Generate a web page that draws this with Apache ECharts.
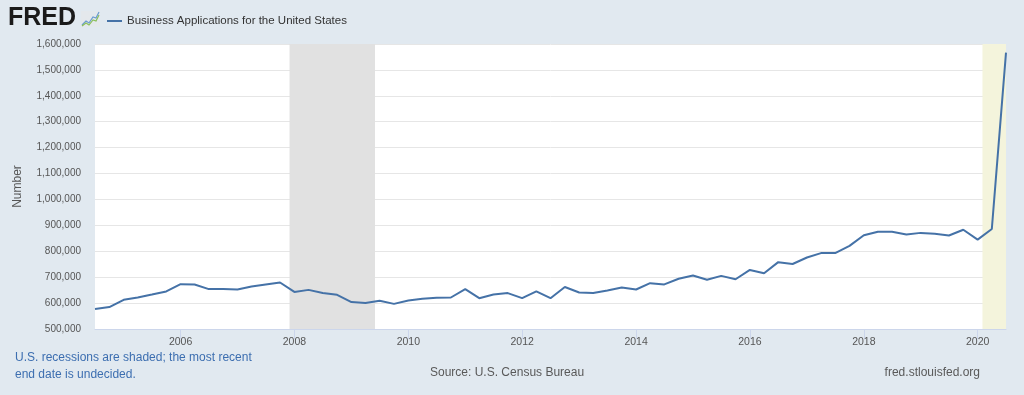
<!DOCTYPE html>
<html>
<head>
<meta charset="utf-8">
<script src="https://cdn.jsdelivr.net/npm/echarts@6/dist/echarts.min.js"></script>
<style>
html,body{margin:0;padding:0;background:#e1e9f0;}
#chart{width:1024px;height:395px;}
</style>
</head>
<body>
<div id="chart"></div>
<script>
// Quarter start dates (categories)
const quarters = [
 '2004-07-01','2004-10-01',
 '2005-01-01','2005-04-01','2005-07-01','2005-10-01',
 '2006-01-01','2006-04-01','2006-07-01','2006-10-01',
 '2007-01-01','2007-04-01','2007-07-01','2007-10-01',
 '2008-01-01','2008-04-01','2008-07-01','2008-10-01',
 '2009-01-01','2009-04-01','2009-07-01','2009-10-01',
 '2010-01-01','2010-04-01','2010-07-01','2010-10-01',
 '2011-01-01','2011-04-01','2011-07-01','2011-10-01',
 '2012-01-01','2012-04-01','2012-07-01','2012-10-01',
 '2013-01-01','2013-04-01','2013-07-01','2013-10-01',
 '2014-01-01','2014-04-01','2014-07-01','2014-10-01',
 '2015-01-01','2015-04-01','2015-07-01','2015-10-01',
 '2016-01-01','2016-04-01','2016-07-01','2016-10-01',
 '2017-01-01','2017-04-01','2017-07-01','2017-10-01',
 '2018-01-01','2018-04-01','2018-07-01','2018-10-01',
 '2019-01-01','2019-04-01','2019-07-01','2019-10-01',
 '2020-01-01','2020-04-01','2020-07-01'
];
// Business applications (Number)
const applications = [
 577000, 584500,
 612700, 621600, 633000, 645000,
 673000, 672000, 654000, 654000,
 652500, 664000, 672000, 679600,
 643000, 651000, 638600, 632000,
 604000, 600000, 609000, 597000,
 610000, 616600, 620500, 621600,
 654000, 619000, 633000, 638600,
 619000, 645000, 619000, 662000,
 641000, 638600, 648600, 660000,
 652500, 677000, 672000, 694000,
 706600, 690000, 705000, 692000,
 728000, 715000, 758000, 751000,
 776000, 793000, 793000, 821000,
 862000, 875000, 875000, 865000,
 871000, 868000, 861000, 883000,
 845000, 886000, 1567000
];
const yearTicks = [2006, 2008, 2010, 2012, 2014, 2016, 2018, 2020];
const recessions = [['2007-12-01', '2009-06-01']];
const undecidedRecession = [['2020-02-01', '2020-07-01']];
const seriesName = 'Business Applications for the United States';

const ts = s => { const p = s.split('-').map(Number); return Date.UTC(p[0], p[1]-1, p[2]); };
const yearTs = yearTicks.map(y => Date.UTC(y, 0, 1));

const chart = echarts.init(document.getElementById('chart'), null, {renderer: 'canvas'});
const font = "'Liberation Sans', Arial, sans-serif";

chart.setOption({
  animation: false,
  backgroundColor: '#e1e9f0',
  textStyle: {fontFamily: font},
  grid: {left: 95, right: 18, top: 44, bottom: 66, show: true, backgroundColor: '#ffffff', borderWidth: 0,
    containLabel: false, outerBoundsMode: 'none'},
  legend: {
    show: true, left: 102, top: 10, icon: 'rect', itemWidth: 15, itemHeight: 2, itemGap: 5,
    textStyle: {color: '#333333', fontSize: 11.5, fontFamily: font},
    data: [seriesName]
  },
  xAxis: {
    type: 'value',
    min: ts(quarters[0]),
    max: ts(quarters[quarters.length - 1]),
    axisLine: {show: true, lineStyle: {color: '#ccd6eb', width: 1}},
    axisTick: {show: true, customValues: yearTs, length: 10, lineStyle: {color: '#ccd6eb'}},
    axisLabel: {
      customValues: yearTs, color: '#555555', fontSize: 10.5, margin: 8, fontFamily: font,
      formatter: v => String(new Date(v).getUTCFullYear())
    },
    splitLine: {show: false}
  },
  yAxis: {
    type: 'value',
    min: 500000, max: 1600000, interval: 100000,
    name: 'Number', nameLocation: 'middle', nameGap: 71, nameRotate: 90,
    nameTextStyle: {color: '#555555', fontSize: 12, fontFamily: font},
    axisLine: {show: false}, axisTick: {show: false},
    axisLabel: {color: '#555555', fontSize: 10, margin: 14, fontFamily: font,
      formatter: v => v.toLocaleString('en-US')},
    splitLine: {show: true, lineStyle: {color: '#e6e6e6', width: 1}}
  },
  series: [
    {
      name: 'shading', type: 'line', data: [], silent: true, z: 1,
      markArea: {
        silent: true,
        data: recessions.map(r => [{xAxis: ts(r[0]), itemStyle: {color: '#e1e1e1'}}, {xAxis: ts(r[1])}])
          .concat(undecidedRecession.map(r => [{xAxis: ts(r[0]), itemStyle: {color: '#f4f4dc'}}, {xAxis: ts(r[1])}]))
      }
    },
    {
      name: seriesName, type: 'line', z: 3,
      data: quarters.map((q, i) => [ts(q), applications[i]]),
      showSymbol: false, symbol: 'none',
      lineStyle: {color: '#4572a7', width: 2},
      itemStyle: {color: '#4572a7'}
    }
  ],
  graphic: [
    {type: 'text', left: 8, top: 6, style: {text: 'FRED', fontSize: 25, fontWeight: 'bold', fill: '#1a1a1a', fontFamily: font}},
    {type: 'rect', shape: {x: 81, y: 11, width: 19, height: 16}, style: {fill: '#e4e8ec'}},
    {type: 'polyline', shape: {points: [[82,25],[86,21],[89,23],[93,17],[96,18],[99,12]]}, style: {stroke: '#6a9bd0', lineWidth: 1.2, fill: null}},
    {type: 'polyline', shape: {points: [[82,26],[86,23],[89,25],[93,20],[96,21],[99,15]]}, style: {stroke: '#8bbf5a', lineWidth: 1.2, fill: null}},
    {type: 'text', left: 15, top: 349, style: {text: 'U.S. recessions are shaded; the most recent\nend date is undecided.', fontSize: 12, lineHeight: 17, fill: '#3c6eb0', fontFamily: font}},
    {type: 'text', left: 430, top: 367, style: {text: 'Source: U.S. Census Bureau', fontSize: 12, fill: '#595959', fontFamily: font}},
    {type: 'text', right: 44, top: 367, style: {text: 'fred.stlouisfed.org', fontSize: 12, fill: '#595959', fontFamily: font}}
  ]
});
</script>
</body>
</html>
